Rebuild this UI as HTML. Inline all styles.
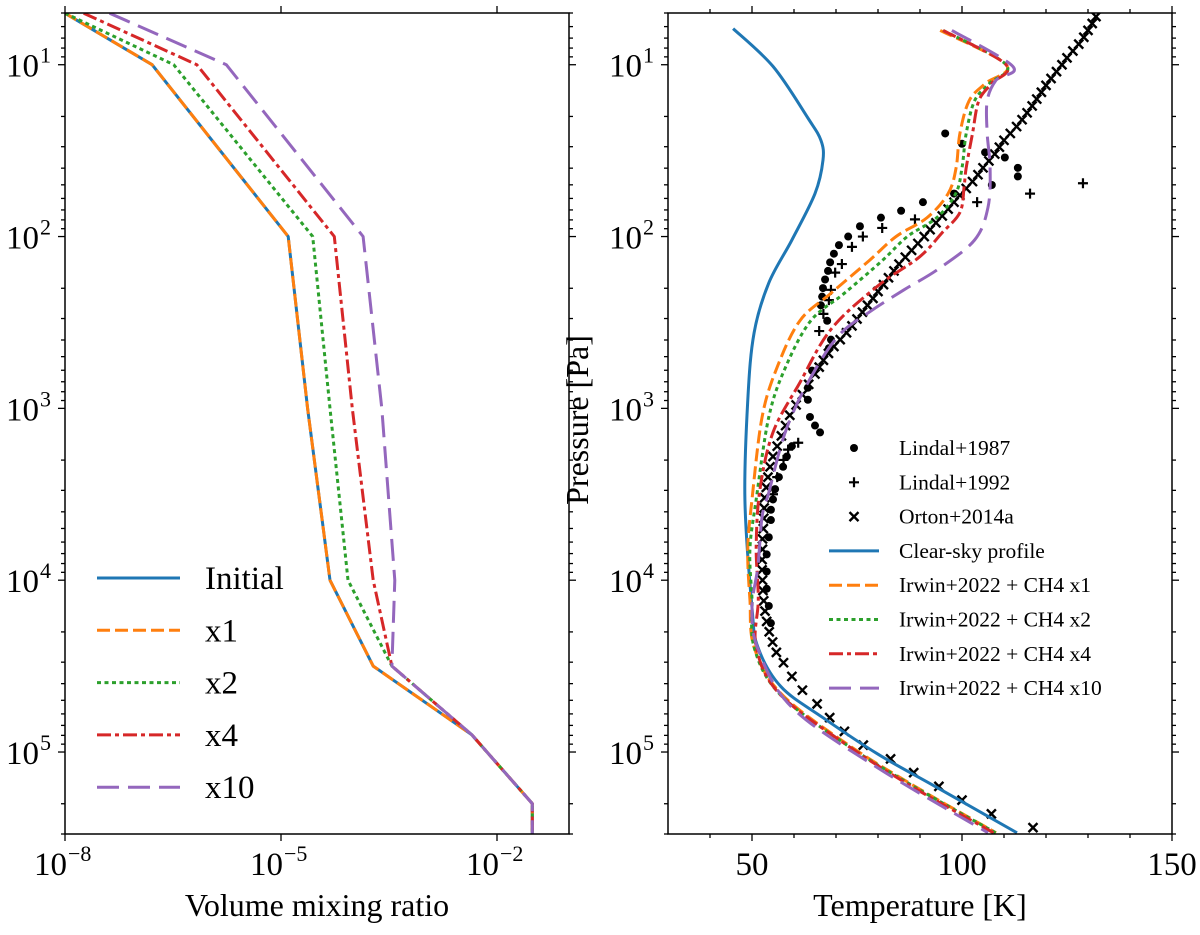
<!DOCTYPE html>
<html><head><meta charset="utf-8"><style>
html,body{margin:0;padding:0;background:#fff}
svg{display:block;font-family:"Liberation Serif","DejaVu Serif",serif}
</style></head><body>
<svg id="fig" width="1200" height="935" viewBox="0 0 1200 935" xmlns="http://www.w3.org/2000/svg">
<g id="left"></g>
<g id="right"></g>
<text x="317" y="916" font-size="32" text-anchor="middle">Volume mixing ratio</text>
<text x="920" y="916" font-size="32" text-anchor="middle">Temperature [K]</text>
<text transform="translate(588,420) rotate(-90)" font-size="32" text-anchor="middle">Pressure [Pa]</text>
</svg>
<script>
// ---------- data: left panel (log10 VMR vs log10 pressure) ----------
const vmrP      = [0.70, 1.0, 2.0, 3.0, 4.0, 4.5, 4.9, 5.3, 5.48];
const vmrInit   = [-8.0, -6.79, -4.90, -4.63, -4.32, -3.72, -2.35, -1.51, -1.51];
const vmrX1     = [-8.0, -6.79, -4.90, -4.63, -4.32, -3.72, -2.35, -1.51, -1.51];
const vmrX2     = [-8.0, -6.49, -4.56, -4.32, -4.07, -3.46, -2.35, -1.51, -1.51];
const vmrX4     = [-7.74, -6.17, -4.26, -4.01, -3.72, -3.46, -2.35, -1.51, -1.51];
const vmrX10    = [-7.38, -5.76, -3.86, -3.60, -3.42, -3.46, -2.35, -1.51, -1.51];
const vmrTickLabels = ["-8", "-5", "-2"];
const pTickLabels = ["1", "2", "3", "4", "5"];
// ---------- data: right panel (temperature vs log10 pressure) ----------
const clearP = [0.79,1.01,1.31,1.44,1.555,1.75,2.02,2.27,2.56,2.95,3.53,4.16,4.39,4.62,4.80,5.01,5.20,5.47];
const clearT = [45.5,55.0,63.3,66.4,66.9,65.0,59.5,54.0,50.5,49.0,48.3,50.0,51.4,56.9,66.9,79.8,93.6,113.1];
const irwP   = [0.80,1.00,1.11,1.21,1.40,1.60,1.75,1.89,2.00,2.14,2.33,2.49,2.76,3.05,3.53,3.82,4.11,4.39,4.66,4.95,5.20,5.47];
const irwX1  = [94.8,110.5,105.5,101.7,99.5,98.6,96.7,91.7,84.3,77.9,68.8,61.4,56.0,52.4,50.0,49.0,49.5,50.5,56.9,72.4,88.8,108.1];
const irwX2  = [95.5,110.5,106.5,103,101,100,98.5,94,87,81,72,64,58,54,51,49.5,50,50.5,56.5,72,88.5,108];
const red4P  = [0.80,1.0,1.11,1.21,1.40,1.60,1.71,1.86,1.98,2.12,2.29,2.54,2.85,3.14,3.47,3.80,4.11,4.39,4.66,4.95,5.20,5.47];
const irwX4  = [95.5,110.5,107,104,102.5,101,100.5,99.5,95.2,89.8,79.8,68.8,61.4,55,51.9,51,51.5,51,56.5,72,88,107.5];
const pur10P = [0.80,1.01,1.09,1.21,1.40,1.60,1.83,2.02,2.19,2.31,2.44,2.58,2.85,3.14,3.49,3.63,3.92,4.16,4.40,4.74,5.09,5.47];
const irwX10 = [97.6,112.1,108.1,106,106,106.7,106.2,103,94.3,86.2,77.9,70.5,63.3,57.9,54,52.4,51.4,50,51.4,59.5,79.8,106.2];
const ortonP = [0.72,0.76,0.80,0.84,0.88,0.92,0.96,1.00,1.04,1.08,1.12,1.16,1.20,1.24,1.28,1.32,1.36,1.40,1.44,1.48,1.52,1.56,1.60,1.64,1.68,1.72,1.76,1.80,1.84,1.88,1.92,1.96,2.0,2.04,2.08,2.12,2.16,2.20,2.24,2.28,2.32,2.36,2.40,2.44,2.48,2.52,2.56,2.60,2.64,2.68,2.72,2.76,2.80,2.86,2.92,2.98,3.04,3.10,3.16,3.22,3.28,3.34,3.40,3.46,3.52,3.58,3.64,3.70,3.76,3.82,3.88,3.94,4.00,4.06,4.12,4.18,4.24,4.30,4.36,4.42,4.48,4.56,4.64,4.72,4.80,4.88,4.96,5.04,5.12,5.20,5.28,5.36,5.44];
const ortonT = [131.9,131,130,129,127.8,126.4,125,123.8,122.5,121.2,120,118.9,117.8,116.7,115.5,114.3,113,111.5,110,108.9,107.8,106.4,105,103.8,102.5,101,99.5,98.1,96.7,95.3,93.8,92.4,91,89.5,88,86.5,85,83.8,82.5,81.3,80,78.8,77.5,76.3,75,73.8,72.5,71,69.5,68.2,67,66,65,63.5,62,60.5,59,58,57,56,55,54.3,53.8,53.4,53,52.9,52.8,52.7,52.5,52.5,52.4,52.4,52.5,52.6,52.8,53.1,53.5,54.1,54.9,55.8,57.5,59.5,62,65.5,68.5,72,76.5,83,88.5,94.5,100,107,116.9];
const l87P = [1.40,1.46,1.51,1.54,1.60,1.65,1.70,1.75,1.80,1.85,1.89,1.94,2.0,2.05,2.10,2.15,2.20,2.25,2.30,2.35,2.40,2.49,2.60,2.65,2.78,2.88,2.95,3.05,3.10,3.14,3.22,3.28,3.34,3.40,3.47,3.53,3.59,3.65,3.75,3.85,3.95,4.05,4.15,4.25];
const l87T = [96,100,105.5,110.2,113.3,113.3,107.1,98.1,90.7,85.5,80.7,75.7,72.9,70.7,69.5,68.6,68.1,67.4,66.9,66.7,66.4,67.9,68.8,68.3,64.3,63.3,63.3,63.8,65,66.2,59.5,58.3,57.4,56.4,55.5,55,54.5,54.5,54,53.5,53.5,53.5,54,54.5];
const l92P = [1.69,1.75,1.80,1.90,1.95,2.0,2.06,2.16,2.21,2.31,2.37,2.45,2.55,3.20,3.24,3.30,3.40,3.50];
const l92T = [128.8,116.2,103.6,88.8,81,76.4,73.8,71.4,69.8,68.8,68.3,67,66,61,58.6,57.5,56,55];
const tTickLabels = [50, 100, 150];

const NS = "http://www.w3.org/2000/svg";
const axTop = 13, axBot = 834;
const pMin = Math.log10(5), pMax = Math.log10(3e5);
function yP(lp){ return axTop + (lp - pMin) / (pMax - pMin) * (axBot - axTop); }
const L = {x0:65, x1:569, lo:-8, hi:-1};
const R = {x0:668, x1:1172, lo:30, hi:150};
function xL(v){ return L.x0 + (v - L.lo) / (L.hi - L.lo) * (L.x1 - L.x0); }
function xR(v){ return R.x0 + (v - R.lo) / (R.hi - R.lo) * (R.x1 - R.x0); }
function mk(tag, attrs, parent){ const e = document.createElementNS(NS, tag); for (const k in attrs) e.setAttribute(k, attrs[k]); parent.appendChild(e); return e; }

function frame(g, P, name){
  const cp = mk('clipPath', {id:'clip-'+name}, g);
  mk('rect', {x:P.x0, y:axTop, width:P.x1-P.x0, height:axBot-axTop}, cp);
  for (let d = 0; d <= 5; d++){
    for (let m = 1; m <= 9; m++){
      const lp = d + Math.log10(m);
      if (lp < pMin || lp > pMax) continue;
      const y = yP(lp), len = m === 1 ? 7 : 4;
      const t1 = mk('line', {x1:P.x0-len, x2:P.x0, y1:y, y2:y, stroke:'#000', 'stroke-width':1.3}, g);
      
      
      const t2 = mk('line', {x1:P.x1, x2:P.x1+len, y1:y, y2:y, stroke:'#000', 'stroke-width':1.3}, g);
      
      
    }
  }
  pTickLabels.forEach(s => {
    const y = yP(+s);
    const t = mk('text', {x:P.x0-26, y:y+12, 'font-size':33, 'text-anchor':'end'}, g);
    
    
    t.textContent = '10';
    const t2 = mk('text', {x:P.x0-25, y:y-2, 'font-size':22}, g);
    
    
    t2.textContent = s;
  });
}
function spine(g, P){
  const r = mk('rect', {x:P.x0, y:axTop, width:P.x1-P.x0, height:axBot-axTop, fill:'none', stroke:'#000', 'stroke-width':1.5}, g);
  
  
}
function drawLine(g, xs, ps, xf, color, dash, name, clip, smooth){
  const P = xs.map((v,i) => [xf(v), yP(ps[i])]);
  let d = 'M' + P[0][0].toFixed(1) + ',' + P[0][1].toFixed(1);
  for (let i = 0; i < P.length - 1; i++){
    if (!smooth){ d += 'L' + P[i+1][0].toFixed(1) + ',' + P[i+1][1].toFixed(1); continue; }
    const p0 = P[Math.max(i-1,0)], p1 = P[i], p2 = P[i+1], p3 = P[Math.min(i+2,P.length-1)];
    const c1 = [p1[0]+(p2[0]-p0[0])/6, p1[1]+(p2[1]-p0[1])/6];
    const c2 = [p2[0]-(p3[0]-p1[0])/6, p2[1]-(p3[1]-p1[1])/6];
    d += `C${c1[0].toFixed(1)},${c1[1].toFixed(1)} ${c2[0].toFixed(1)},${c2[1].toFixed(1)} ${p2[0].toFixed(1)},${p2[1].toFixed(1)}`;
  }
  const a = {d:d, fill:'none', stroke:color, 'stroke-width':3, 'stroke-linejoin':'round', 'clip-path':'url(#clip-'+clip+')'};
  if (dash) a['stroke-dasharray'] = dash;
  const e = mk('path', a, g);
  
  
}
const C = {blue:'#1f77b4', orange:'#ff7f0e', green:'#2ca02c', red:'#d62728', purple:'#9467bd'};
const D = {x1:'13,5', x2:'4,3.5', x4:'14,4,4,4', x10:'22,9'};

// ---- Left panel
const gl = document.getElementById('left');
frame(gl, L, 'l');
vmrTickLabels.forEach(s => {
  const x = xL(+s);
  const a = mk('line', {x1:x, x2:x, y1:axBot, y2:axBot+7, stroke:'#000', 'stroke-width':1.3}, gl);
  
  
  const b = mk('line', {x1:x, x2:x, y1:axTop, y2:axTop-7, stroke:'#000', 'stroke-width':1.3}, gl);
  
  
  const t = mk('text', {x:x+2, y:axBot+41, 'font-size':33, 'text-anchor':'end'}, gl);
  
  
  t.textContent = '10';
  const t2 = mk('text', {x:x+3, y:axBot+27, 'font-size':22}, gl);
  
  
  t2.textContent = s.replace('-', '\u2212');
});
drawLine(gl, vmrInit, vmrP, xL, C.blue, null, 'initial-line', 'l', false);
drawLine(gl, vmrX1, vmrP, xL, C.orange, D.x1, 'x1-line', 'l', false);
drawLine(gl, vmrX2, vmrP, xL, C.green, D.x2, 'x2-line', 'l', false);
drawLine(gl, vmrX4, vmrP, xL, C.red, D.x4, 'x4-line', 'l', false);
drawLine(gl, vmrX10, vmrP, xL, C.purple, D.x10, 'x10-line', 'l', false);
spine(gl, L);
const legL = [['Initial',C.blue,null],['x1',C.orange,D.x1],['x2',C.green,D.x2],['x4',C.red,D.x4],['x10',C.purple,D.x10]];
legL.forEach((e,i) => {
  const y = 578 + i*52.3;
  const l = mk('line', {x1:97, x2:180, y1:y, y2:y, stroke:e[1], 'stroke-width':3}, gl);
  if (e[2]) l.setAttribute('stroke-dasharray', e[2]);
  
  
  const t = mk('text', {x:205, y:y+11, 'font-size':33}, gl);
  
  
  t.textContent = e[0];
});

// ---- Right panel
const gr = document.getElementById('right');
frame(gr, R, 'r');
for (let v = 40; v <= 150; v += 10){
  const x = xR(v), len = v % 50 === 0 ? 7 : 4;
  const a = mk('line', {x1:x, x2:x, y1:axBot, y2:axBot+len, stroke:'#000', 'stroke-width':1.3}, gr);
  
  
  const b = mk('line', {x1:x, x2:x, y1:axTop, y2:axTop-len, stroke:'#000', 'stroke-width':1.3}, gr);
  
  
}
tTickLabels.forEach(v => {
  const t = mk('text', {x:xR(v), y:axBot+41, 'font-size':33, 'text-anchor':'middle'}, gr);
  
  
  t.textContent = v;
});
const gm = mk('g', {'clip-path':'url(#clip-r)'}, gr);
function cross(x, y){ const e = mk('path', {d:`M${x-4.5},${y-4.5}L${x+4.5},${y+4.5}M${x-4.5},${y+4.5}L${x+4.5},${y-4.5}`, stroke:'#000', 'stroke-width':2.4}, gm);   }
function plus(x, y){ const e = mk('path', {d:`M${x-5},${y}L${x+5},${y}M${x},${y-5}L${x},${y+5}`, stroke:'#000', 'stroke-width':2.2}, gm);   }
function dot(x, y){ const e = mk('circle', {cx:x, cy:y, r:4, fill:'#000'}, gm);   }
drawLine(gr, clearT, clearP, xR, C.blue, null, 'clear-sky-line', 'r', true);
drawLine(gr, irwX1, irwP, xR, C.orange, D.x1, 'irwin-x1-line', 'r', true);
drawLine(gr, irwX2, irwP, xR, C.green, D.x2, 'irwin-x2-line', 'r', true);
drawLine(gr, irwX4, red4P, xR, C.red, D.x4, 'irwin-x4-line', 'r', true);
drawLine(gr, irwX10, pur10P, xR, C.purple, D.x10, 'irwin-x10-line', 'r', true);
ortonT.forEach((v,i) => cross(xR(v), yP(ortonP[i])));
l87T.forEach((v,i) => dot(xR(v), yP(l87P[i])));
l92T.forEach((v,i) => plus(xR(v), yP(l92P[i])));
spine(gr, R);
const lg = mk('g', {}, gr);


const legR = ['Lindal+1987','Lindal+1992','Orton+2014a','Clear-sky profile','Irwin+2022 + CH4 x1','Irwin+2022 + CH4 x2','Irwin+2022 + CH4 x4','Irwin+2022 + CH4 x10'];
const legStyle = [['dot'],['plus'],['cross'],[C.blue,null],[C.orange,D.x1],[C.green,D.x2],[C.red,D.x4],[C.purple,D.x10]];
legR.forEach((s,i) => {
  const y = 448 + i*34.3;
  const st = legStyle[i];
  if (st[0] === 'dot'){ const e = mk('circle', {cx:854, cy:y, r:4, fill:'#000'}, lg);   }
  else if (st[0] === 'plus'){ const e = mk('path', {d:`M849,${y}L859,${y}M854,${y-5}L854,${y+5}`, stroke:'#000','stroke-width':2.2}, lg);   }
  else if (st[0] === 'cross'){ const e = mk('path', {d:`M849.5,${y-4.5}L858.5,${y+4.5}M849.5,${y+4.5}L858.5,${y-4.5}`, stroke:'#000','stroke-width':2.4}, lg);   }
  else { const e = mk('line', {x1:829, x2:879, y1:y, y2:y, stroke:st[0], 'stroke-width':3}, lg); if (st[1]) e.setAttribute('stroke-dasharray', st[1]);   }
  const t = mk('text', {x:899, y:y+7, 'font-size':21.5}, lg);
  
  
  t.textContent = s;
});
</script>
</body></html>
